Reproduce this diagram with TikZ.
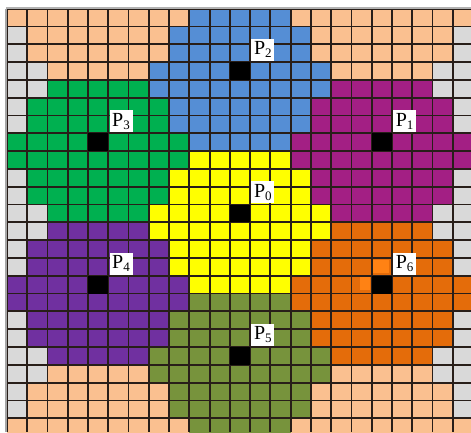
\documentclass[tikz,border=0pt]{standalone}
\usepackage{fontspec}
\newfontfamily\labfont{Liberation Serif}
\definecolor{peach}{RGB}{250,192,144}
\definecolor{cellgray}{RGB}{217,217,217}
\definecolor{rblue}{RGB}{85,142,213}
\definecolor{rgreen}{RGB}{0,176,80}
\definecolor{ryellow}{RGB}{255,255,0}
\definecolor{rmagenta}{RGB}{163,31,132}
\definecolor{rpurple}{RGB}{112,48,160}
\definecolor{rorange}{RGB}{228,108,10}
\definecolor{rbright}{RGB}{255,130,20}
\definecolor{rolive}{RGB}{119,147,60}
\definecolor{gridc}{RGB}{40,30,25}
\def\gx{7}
\def\gy{8.6}
\def\cw{20.26}
\def\ch{17.81}
\newcommand\cellreg[3]{%
  \foreach \dr/\hw in {-3/2,-2/3,-1/3,0/4,1/4,2/3,3/3,4/2}{%
    \fill[#1] ({\gx+(#2-\hw)*\cw},{\gy+(#3+\dr)*\ch}) rectangle ({\gx+(#2+\hw+1)*\cw},{\gy+(#3+\dr+1)*\ch});
  }}
\newcommand\seedcell[2]{\fill[black] ({\gx+#1*\cw},{\gy+#2*\ch}) rectangle ++(\cw,\ch);}
\newcommand\plab[1]{P\raisebox{-3pt}{\fontsize{13}{13}\selectfont #1}}
\tikzset{
  gridline/.style={draw=gridc, line width=1.8pt},
  lab/.style={fill=white, inner sep=0pt, minimum width=23pt, minimum height=22pt,
    font=\labfont\fontsize{20}{20}\selectfont, anchor=south west}
}
\begin{document}
\begin{tikzpicture}[x=1pt,y=-1pt]
\useasboundingbox (0,0) rectangle (471,432);
\fill[white] (0,0) rectangle (471,432);
\begin{scope}
\clip (\gx,\gy) rectangle (471,432);
% background gray cells
\fill[cellgray] (\gx,\gy) rectangle (471,432);
% peach corner regions
\cellreg{peach}{4}{-1}
\cellreg{peach}{18}{-1}
\cellreg{peach}{4}{23}
\cellreg{peach}{18}{23}
% coloured regions
\cellreg{rblue}{11}{3}
\cellreg{rgreen}{4}{7}
\cellreg{rmagenta}{18}{7}
\cellreg{ryellow}{11}{11}
\cellreg{rpurple}{4}{15}
\cellreg{rorange}{18}{15}
\cellreg{rolive}{11}{19}
% small bright patches near P6
\fill[rbright] (373,260) rectangle (389,273);
\fill[rbright] (360,277) rectangle (370,290);
\end{scope}
\begin{scope}
\clip (0,0) rectangle (471,432);
% grid
\foreach \i in {0,...,23}{\draw[gridline] ({\gx+\i*\cw},\gy) -- ({\gx+\i*\cw},432);}
\foreach \j in {0,...,24}{\draw[gridline] (\gx,{\gy+\j*\ch}) -- (471,{\gy+\j*\ch});}
\draw[gray!70, line width=1.5pt] (6,\gy) -- (6,432);
\draw[gray!60, line width=1.2pt] (6,8) -- (471,8);
\end{scope}
% seeds
\seedcell{11}{3}
\seedcell{4}{7}
\seedcell{18}{7}
\seedcell{11}{11}
\seedcell{4}{15}
\seedcell{18}{15}
\seedcell{11}{19}
% labels
\node[lab] (p2) at ({\gx+12*\cw+1},{\gy+3*\ch-1}) {\plab{2}};
\node[lab] (p3) at ({\gx+5*\cw+1},{\gy+7*\ch-1}) {\plab{3}};
\node[lab] (p1) at ({\gx+19*\cw+1},{\gy+7*\ch-1}) {\plab{1}};
\node[lab] (p0) at ({\gx+12*\cw+1},{\gy+11*\ch-1}) {\plab{0}};
\node[lab] (p4) at ({\gx+5*\cw+1},{\gy+15*\ch-1}) {\plab{4}};
\node[lab] (p6) at ({\gx+19*\cw+1},{\gy+15*\ch-1}) {\plab{6}};
\node[lab] (p5) at ({\gx+12*\cw+1},{\gy+19*\ch-1}) {\plab{5}};
\end{tikzpicture}
\end{document}
